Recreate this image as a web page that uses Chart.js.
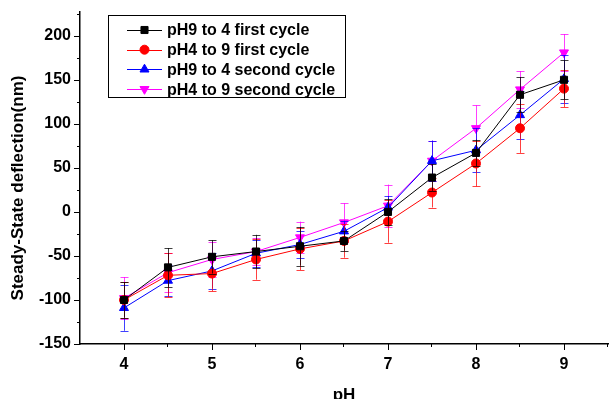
<!DOCTYPE html>
<html>
<head>
<meta charset="utf-8">
<script src="https://cdn.jsdelivr.net/npm/chart.js@4.4.1/dist/chart.umd.min.js"></script>
<style>
  html, body { margin: 0; padding: 0; background: #fff; }
  canvas { display: block; }
</style>
</head>
<body>
<canvas id="chart" width="609" height="399"></canvas>
<script>
// Data
const phValues = [4, 4.5, 5, 5.5, 6, 6.5, 7, 7.5, 8, 8.5, 9];

const firstDown    = [-100, -63, -51, -45, -39, -33,   0, 39, 67, 133, 150];
const firstDownErr = [  20,  22,  19,  19,  22,  11,  15, 15, 15,  20,  22];
const firstUp      = [-100, -72, -70, -54, -42, -33, -11, 22, 55,  95, 140];
const firstUpErr   = [  20,  25,  20,  23,  24,  19,  24, 17, 26,  28,  21];
const secondDown   = [-109, -78, -67, -47, -37, -22,   5, 58, 70, 110, 151];
const secondDownErr= [  26,  18,  20,  15,  15,  12,  13, 23, 25,  27,  27];
const secondUp     = [ -98, -69, -54, -45, -29, -12,   7, 58, 95, 139, 181];
const secondUpErr  = [  24,  22,  20,  15,  18,  22,  24, 23, 26,  21,  21];

const seriesLabels = ["pH9 to 4 first cycle", "pH4 to 9 first cycle", "pH9 to 4 second cycle", "pH4 to 9 second cycle"];
const seriesColors = ["#000000", "#ff0000", "#0000ff", "#ff00ff"];

const xMajor = [4, 5, 6, 7, 8, 9];
const xMinor = [4.5, 5.5, 6.5, 7.5, 8.5, 9.5];
const yMajor = [-150, -100, -50, 0, 50, 100, 150, 200];
const yMinor = [-125, -75, -25, 25, 75, 125, 175, 225];

const FONT = 'Arial, "Liberation Sans", sans-serif';

function toPoints(ys) {
    return phValues.map((x, i) => ({ x: x, y: ys[i] }));
}

function makeSet(i, ys, errs, style, radius, rotation) {
    return {
        label: seriesLabels[i],
        data: toPoints(ys),
        errors: errs,
        borderColor: seriesColors[i],
        backgroundColor: seriesColors[i],
        borderWidth: 1,
        pointStyle: style,
        pointRadius: radius,
        pointRotation: rotation,
        pointBorderWidth: 1,
        tension: 0
    };
}

// error bars, drawn under each dataset's own line and symbols
const errorBars = {
    id: "errorBars",
    beforeDatasetDraw(chart, args) {
        const ds = chart.data.datasets[args.index];
        const xs = chart.scales.x, ys = chart.scales.y;
        const ctx = chart.ctx;
        ctx.save();
        ctx.strokeStyle = ds.borderColor;
        ctx.globalAlpha = 0.75;
        ctx.lineWidth = 1;
        ds.data.forEach((p, i) => {
            const e = ds.errors[i];
            const px = Math.round(xs.getPixelForValue(p.x)) + 0.5;
            const top = ys.getPixelForValue(p.y + e);
            const bot = ys.getPixelForValue(p.y - e);
            ctx.beginPath();
            ctx.moveTo(px, top); ctx.lineTo(px, bot);
            ctx.moveTo(px - 4, Math.round(top) + 0.5); ctx.lineTo(px + 4, Math.round(top) + 0.5);
            ctx.moveTo(px - 4, Math.round(bot) + 0.5); ctx.lineTo(px + 4, Math.round(bot) + 0.5);
            ctx.stroke();
        });
        ctx.restore();
    }
};

// outward tick marks (long major, short minor) and the y axis title
const axisDecor = {
    id: "axisDecor",
    afterDraw(chart) {
        const ctx = chart.ctx;
        const xs = chart.scales.x, ys = chart.scales.y;
        const area = chart.chartArea;
        ctx.save();
        ctx.strokeStyle = "#000";
        ctx.lineWidth = 1;
        ctx.beginPath();
        xMajor.forEach(v => {
            const px = Math.round(xs.getPixelForValue(v)) + 0.5;
            ctx.moveTo(px, area.bottom); ctx.lineTo(px, area.bottom + 6);
        });
        xMinor.forEach(v => {
            const px = Math.round(xs.getPixelForValue(v)) - 0.5;
            ctx.moveTo(px, area.bottom); ctx.lineTo(px, area.bottom + 3);
        });
        yMajor.forEach(v => {
            const py = Math.round(ys.getPixelForValue(v)) + 0.5;
            ctx.moveTo(area.left, py); ctx.lineTo(area.left - 6, py);
        });
        yMinor.forEach(v => {
            const py = Math.round(ys.getPixelForValue(v)) + 0.5;
            ctx.moveTo(area.left, py); ctx.lineTo(area.left - 3, py);
        });
        ctx.stroke();

        ctx.translate(18, 188);
        ctx.rotate(-Math.PI / 2);
        ctx.fillStyle = "#000";
        ctx.font = "bold 17px " + FONT;
        ctx.textAlign = "center";
        ctx.textBaseline = "middle";
        ctx.fillText("Steady-State deflection(nm)", 0, 0);
        ctx.restore();
    }
};

// boxed legend in the upper left of the plot
const boxLegend = {
    id: "boxLegend",
    afterDraw(chart) {
        const ctx = chart.ctx;
        const bx = 108.5, by = 15.5, bw = 237, bh = 82;
        ctx.save();
        ctx.fillStyle = "#fff";
        ctx.fillRect(bx, by, bw, bh);
        ctx.strokeStyle = "#000";
        ctx.lineWidth = 1;
        ctx.strokeRect(bx, by, bw, bh);
        ctx.font = "bold 16px " + FONT;
        ctx.textBaseline = "middle";
        chart.data.datasets.forEach((ds, i) => {
            const y = 30 + i * 19.7;
            ctx.strokeStyle = ds.borderColor;
            ctx.fillStyle = ds.backgroundColor;
            ctx.beginPath();
            ctx.moveTo(127, Math.round(y) + 0.5); ctx.lineTo(162, Math.round(y) + 0.5);
            ctx.stroke();
            Chart.helpers.drawPoint(ctx, {
                pointStyle: ds.pointStyle,
                radius: ds.pointRadius,
                rotation: ds.pointRotation,
                borderWidth: 1
            }, 144.5, y);
            ctx.fillStyle = "#000";
            ctx.fillText(ds.label, 167, y + 1);
        });
        ctx.restore();
    }
};

const ctx = document.getElementById("chart").getContext("2d");

new Chart(ctx, {
    type: "line",
    data: {
        datasets: [
            makeSet(0, firstDown, firstDownErr, "rect", 5, 0),
            makeSet(1, firstUp, firstUpErr, "circle", 4.5, 0),
            makeSet(2, secondDown, secondDownErr, "triangle", 5.2, 0),
            makeSet(3, secondUp, secondUpErr, "triangle", 5.2, 180)
        ]
    },
    options: {
        responsive: false,
        animation: false,
        layout: { autoPadding: false, padding: { top: 12, right: 1, left: 0, bottom: 0 } },
        plugins: {
            legend: { display: false },
            tooltip: { enabled: false }
        },
        scales: {
            x: {
                type: "linear",
                min: 3.5,
                max: 9.5,
                afterBuildTicks: s => { s.ticks = xMajor.map(v => ({ value: v })); },
                afterFit: s => { s.height = 55; s.paddingLeft = 0; s.paddingRight = 0; },
                grid: { display: false, drawTicks: false },
                border: { display: true, color: "#000", width: 1.5 },
                ticks: {
                    color: "#000",
                    padding: 11,
                    maxRotation: 0,
                    font: { family: FONT, size: 16, weight: "bold" }
                },
                title: {
                    display: true,
                    text: "pH",
                    color: "#000",
                    padding: { top: 0, bottom: -1 },
                    font: { family: FONT, size: 17, weight: "bold", lineHeight: 0.5 }
                }
            },
            y: {
                min: -150,
                max: 227,
                afterBuildTicks: s => { s.ticks = yMajor.map(v => ({ value: v })); },
                afterFit: s => { s.width = 80; s.paddingTop = 0; s.paddingBottom = 0; },
                grid: { display: false, drawTicks: false },
                border: { display: true, color: "#000", width: 1.5 },
                ticks: {
                    color: "#000",
                    padding: 9,
                    font: { family: FONT, size: 16, weight: "bold" }
                }
            }
        }
    },
    plugins: [errorBars, axisDecor, boxLegend]
});
</script>
</body>
</html>
